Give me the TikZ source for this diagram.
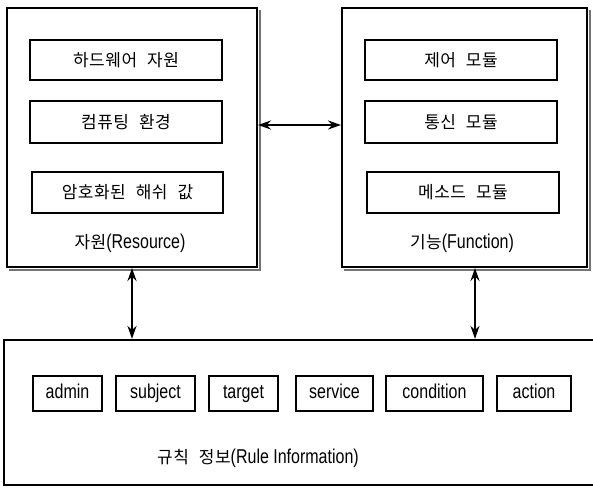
\documentclass[tikz,border=0pt]{standalone}
\usepackage{fontspec}
\setmainfont[FakeStretch=0.8]{Liberation Sans}
\newfontfamily\kr[LetterSpace=3,WordSpace=2.3]{Noto Sans CJK KR}
\newcommand{\kt}[1]{{\fontsize{17}{20}\selectfont\kr #1}}
\usetikzlibrary{arrows.meta}
\begin{document}
\begin{tikzpicture}[x=1pt,y=-1pt,
  outer/.style={draw, line width=2pt, inner sep=0pt, fill=white},
  inbox/.style={draw, line width=2.3pt, inner sep=0pt, font=\fontsize{17}{20}\selectfont\kr},
  rbox/.style={draw, line width=2.3pt, inner sep=0pt, minimum height=35pt, text height=14pt, text depth=4pt, font=\fontsize{20}{22}\selectfont},
  dbl/.style={{Stealth[length=13pt,width=9pt]}-{Stealth[length=13pt,width=9pt]}, line width=2.2pt},
  lbl/.style={font=\fontsize{20}{22}\selectfont, inner sep=0pt},
  shade/.style={line width=2.4pt, black!55}]
\useasboundingbox (0,0) rectangle (593,488);
% outer boxes
\node[outer, minimum width=250pt, minimum height=259pt] (res) at (132,137.5) {};
\node[outer, minimum width=245pt, minimum height=259pt] (fun) at (464.5,137.5) {};
\node[outer, minimum width=596pt, minimum height=145pt, line width=2.2pt] (rule) at (302,412.5) {};
\draw[shade] ([shift={(1.8pt,-3pt)}]res.north east) -- ([shift={(1.8pt,-1.8pt)}]res.south east) -- ([shift={(3pt,-1.8pt)}]res.south west);
\draw[shade] ([shift={(1.8pt,-3pt)}]fun.north east) -- ([shift={(1.8pt,-1.8pt)}]fun.south east) -- ([shift={(3pt,-1.8pt)}]fun.south west);
% resource inner
\node[inbox, minimum width=192pt, minimum height=40pt] (r1) at (126,60) {하드웨어 자원};
\node[inbox, minimum width=192pt, minimum height=42pt] (r2) at (126,122) {컴퓨팅 환경};
\node[inbox, minimum width=191pt, minimum height=41pt] (r3) at (127.5,192.5) {암호화된 해쉬 값};
\node[lbl] (reslab) at (130,243) {\kt{자원}(Resource)};
% function inner
\node[inbox, minimum width=192pt, minimum height=40pt] (f1) at (461,60) {제어 모듈};
\node[inbox, minimum width=192pt, minimum height=42pt] (f2) at (461,122) {통신 모듈};
\node[inbox, minimum width=192pt, minimum height=41pt] (f3) at (463,192.5) {메소드 모듈};
\node[lbl] (funlab) at (462,243) {\kt{기능}(Function)};
% rule items
\node[rbox, minimum width=69pt] (admin) at (67.5,393.5) {admin};
\node[rbox, minimum width=79pt] (subject) at (155.5,393.5) {subject};
\node[rbox, minimum width=69pt] (target) at (243.5,393.5) {target};
\node[rbox, minimum width=77pt] (service) at (334.5,393.5) {service};
\node[rbox, minimum width=97pt] (condition) at (434.5,393.5) {condition};
\node[rbox, minimum width=74pt] (action) at (534,393.5) {action};
\node[lbl] (rulelab) at (258,458) {\kt{규칙 정보}(Rule Information)};
% arrows
\draw[dbl] ([yshift=12.5pt]res.east) -- ([yshift=12.5pt]fun.west);
\draw[dbl] (res.south) -- (res.south |- rule.north);
\coordinate (fa) at ([xshift=10.5pt]fun.south);
\draw[dbl] (fa) -- (fa |- rule.north);
\end{tikzpicture}
\end{document}
